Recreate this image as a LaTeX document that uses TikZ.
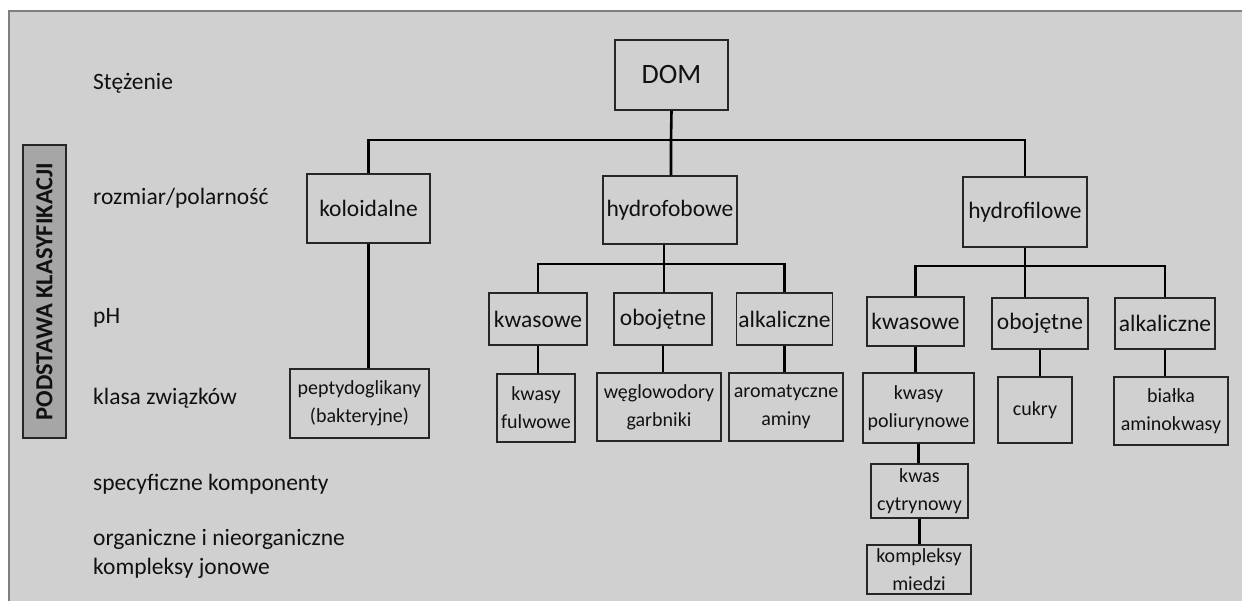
\documentclass[tikz,border=0pt]{standalone}
\usepackage{fontspec}
\setmainfont{Carlito}
\definecolor{panel}{HTML}{D0D0D0}
\definecolor{panelline}{HTML}{7F7F7F}
\definecolor{labelfill}{HTML}{A6A6A6}
\definecolor{boxline}{HTML}{262626}
\definecolor{ink}{HTML}{111111}
\begin{document}
\begin{tikzpicture}[x=1pt,y=-1pt,
  box/.style={draw=boxline,line width=1.4pt,inner sep=0pt,align=center,text=ink,font=\fontsize{23.5}{27}\selectfont},
  leaf/.style={box,font=\fontsize{20}{28}\selectfont},
  rowlabel/.style={anchor=west,inner sep=0pt,text=ink,font=\fontsize{23.5}{29}\selectfont,align=left},
  conn/.style={line width=2.6pt,black}]
\useasboundingbox[fill=white] (0,0) rectangle (1242,601);
\fill[panel] (9,11) rectangle (1260,620);
\draw[panelline,line width=1.6pt] (9,620) -- (9,11) -- (1260,11);
% basis label
\node[draw=boxline,fill=labelfill,line width=1.2pt,rotate=90,minimum width=293,minimum height=43,inner sep=0pt,text=ink,font=\fontsize{24.5}{26}\selectfont\bfseries] (basis) at (44.5,291.5) {PODSTAWA KLASYFIKACJI};
% row labels
\node[rowlabel] (l1) at (93,83) {Stężenie};
\node[rowlabel] (l2) at (93,198) {rozmiar/polarność};
\node[rowlabel] (l3) at (93,318) {pH};
\node[rowlabel] (l4) at (93,398) {klasa związków};
\node[rowlabel] (l5) at (93,484) {specyficzne komponenty};
\node[rowlabel] (l6) at (93,554) {organiczne i nieorganiczne\\kompleksy jonowe};
% boxes
\node[box,minimum width=113,minimum height=70,font=\fontsize{28}{32}\selectfont] (dom) at (671.5,75) {DOM};
\node[box,minimum width=123,minimum height=69] (kol) at (368.5,208.5) {koloidalne};
\node[box,minimum width=134,minimum height=68] (hfob) at (670,210) {hydrofobowe};
\node[box,minimum width=124,minimum height=70] (hfil) at (1025,212) {hydrofilowe};
\node[box,minimum width=98,minimum height=52] (k1) at (538,319) {kwasowe};
\node[box,minimum width=98,minimum height=52] (o1) at (663,319) {obojętne};
\node[box,minimum width=96,minimum height=52] (a1) at (784.5,319) {alkaliczne};
\node[box,minimum width=97,minimum height=49] (k2) at (915.5,321.5) {kwasowe};
\node[box,minimum width=96,minimum height=51] (o2) at (1040,323.5) {obojętne};
\node[box,minimum width=100,minimum height=51] (a2) at (1165,323.5) {alkaliczne};
\node[leaf,minimum width=139,minimum height=69] (pep) at (359.5,403.5) {peptydoglikany\\(bakteryjne)};
\node[leaf,minimum width=78,minimum height=68] (fulw) at (536,408) {kwasy\\fulwowe};
\node[leaf,minimum width=124,minimum height=68] (wegl) at (659,407) {węglowodory\\garbniki};
\node[leaf,minimum width=114,minimum height=68] (arom) at (786,407) {aromatyczne\\aminy};
\node[leaf,minimum width=111,minimum height=70] (poli) at (918.5,408) {kwasy\\poliurynowe};
\node[leaf,minimum width=74,minimum height=66] (cuk) at (1035,410) {cukry};
\node[leaf,minimum width=114,minimum height=68] (bial) at (1171,411) {białka\\aminokwasy};
\node[leaf,minimum width=97,minimum height=54] (cytr) at (919.5,491) {kwas\\cytrynowy};
\node[leaf,minimum width=104,minimum height=49] (mied) at (919,569.5) {kompleksy\\miedzi};
% junctions
\coordinate (b0) at (671,140);
\coordinate (b1) at (664,264);
\coordinate (b2) at (1025,266);
% connectors
\draw[conn] (dom.south) -- (b0) -- (b0 |- hfob.north);
\draw[conn] (kol.north) |- (b0) -| (hfil.north);
\draw[conn] (kol.south) -- (kol.south |- pep.north);
\draw[conn] (hfob.south -| b1) -- (b1) -- (b1 |- o1.north);
\draw[conn] (k1.north) |- (b1) -| (a1.north);
\draw[conn] (hfil.south) -- (b2) -- (b2 |- o2.north);
\draw[conn] (k2.north) |- (b2) -| (a2.north);
\draw[conn] (k1.south) -- (k1.south |- fulw.north);
\draw[conn] (o1.south) -- (o1.south |- wegl.north);
\draw[conn] (a1.south) -- (a1.south |- arom.north);
\draw[conn] (k2.south) -- (k2.south |- poli.north);
\draw[conn] (o2.south) -- (o2.south |- cuk.north);
\draw[conn] (a2.south) -- (a2.south |- bial.north);
\draw[conn] (poli.south) -- (poli.south |- cytr.north);
\draw[conn] (cytr.south) -- (cytr.south |- mied.north);
\end{tikzpicture}
\end{document}
